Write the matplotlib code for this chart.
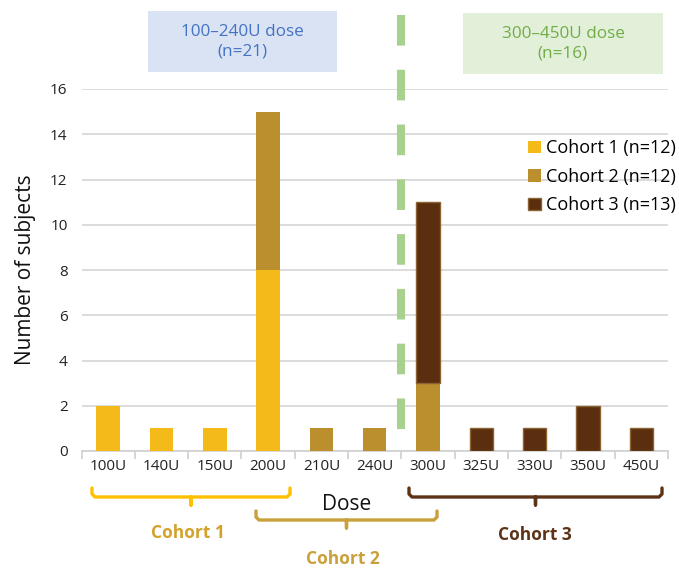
import numpy as np
import matplotlib
matplotlib.use("Agg")
import matplotlib.pyplot as plt
from matplotlib.lines import Line2D
from matplotlib.patches import Rectangle

plt.rcParams['font.family'] = ['Open Sans', 'DejaVu Sans']

# data
doses = ["100U", "140U", "150U", "200U", "210U", "240U", "300U", "325U", "330U", "350U", "450U"]
cohort1 = [2, 1, 1, 8, 0, 0, 0, 0, 0, 0, 0]
cohort2 = [0, 0, 0, 7, 1, 1, 3, 0, 0, 0, 0]
cohort3 = [0, 0, 0, 0, 0, 0, 8, 1, 1, 2, 1]
labels = ["Cohort 1 (n=12)", "Cohort 2 (n=12)", "Cohort 3 (n=13)"]

c1 = '#F4BA19'
c2 = '#BC8F2E'
c3 = '#5B2E0F'

W, H = 679, 569
fig = plt.figure(figsize=(W / 100, H / 100), dpi=100)
ax = fig.add_axes([81.5 / W, 1 - 451 / H, (668 - 81.5) / W, (451 - 89) / H])

x = np.arange(len(doses))
bw = 0.44
v1 = np.array(cohort1)
v2 = np.array(cohort2)
v3 = np.array(cohort3)
m1, m2, m3 = v1 > 0, v2 > 0, v3 > 0
b1 = ax.bar(x[m1], v1[m1], bw, color=c1, label=labels[0], zorder=3)
b2 = ax.bar(x[m2], v2[m2], bw, bottom=v1[m2], color=c2, label=labels[1], zorder=3)
b3 = ax.bar(x[m3], v3[m3], bw, bottom=(v1 + v2)[m3], color=c3, edgecolor='#8A6432',
            linewidth=1.0, label=labels[2], zorder=3)

ax.set_xlim(-0.5, len(doses) - 0.5)
ax.set_ylim(0, 16)
ax.set_yticks(range(0, 17, 2))
ax.set_xticks(x)
ax.set_xticklabels(doses, fontsize=11, color='#222222')
ax.tick_params(axis='y', length=0, labelsize=11, labelcolor='#222222', pad=10)
ax.tick_params(axis='x', which='major', length=0, pad=6)
ax.set_xticks(np.arange(-0.5, len(doses), 1), minor=True)
ax.tick_params(axis='x', which='minor', length=6, color='#D0D0D0', width=1.2)
ax.grid(axis='y', color='#D9D9D9', linewidth=1.3, zorder=0)
for s in ['top', 'right', 'left']:
    ax.spines[s].set_visible(False)
ax.spines['bottom'].set_color('#D0D0D0')
ax.spines['bottom'].set_linewidth(1.2)
ax.set_ylabel("Number of subjects", fontsize=15, color='#111111', labelpad=10)

# green dashed separator between 240U and 300U, drawn top-down
ax.plot([5.5, 5.5], [19.27, 0.5], color='#A9D18E', linewidth=5.8, linestyle=(0, (3.8, 3.0)),
        clip_on=False, zorder=4, solid_capstyle='butt')

ax.legend(handles=[b1, b2, b3], loc='upper left', bbox_to_anchor=(521 / W, 1 - 132 / H),
          bbox_transform=fig.transFigure, frameon=False, fontsize=13, handlelength=0.7,
          handleheight=0.7, handletextpad=0.3, labelspacing=0.58, borderaxespad=0)


def px(xp, yp):
    return xp / W, 1 - yp / H


# dose range boxes
fig.add_artist(Rectangle(px(148, 72), 189 / W, 61 / H, transform=fig.transFigure,
                         facecolor='#DAE3F3', edgecolor='none'))
fig.text(*px(242.5, 41.5), "100–240U dose\n(n=21)", ha='center', va='center',
         fontsize=12.3, color='#4472C4', linespacing=1.25)
fig.add_artist(Rectangle(px(463, 74), 200 / W, 61 / H, transform=fig.transFigure,
                         facecolor='#E2F0D9', edgecolor='none'))
fig.text(*px(563, 43.5), "300–450U dose\n(n=16)", ha='center', va='center',
         fontsize=12.3, color='#70AD47', linespacing=1.25)


def bracket(x0, x1, ytop, ybot, ytick, color):
    xm = (x0 + x1) / 2
    r = 3
    xs = [x0, x0, x0 + r, xm - r, xm, xm, xm, xm + r, x1 - r, x1, x1]
    ys = [ytop, ybot - r, ybot, ybot, ybot, ytick, ybot, ybot, ybot, ybot - r, ytop]
    fx = [v / W for v in xs]
    fy = [1 - v / H for v in ys]
    fig.add_artist(Line2D(fx, fy, transform=fig.transFigure, color=color, linewidth=2.4,
                          solid_joinstyle='round', solid_capstyle='round'))


bracket(92, 290, 488, 497, 505, '#FFC000')
bracket(256, 437, 511, 520, 528, '#C9A03A')
bracket(409, 662, 488, 497, 505, '#5C3317')

fig.text(*px(347, 505), "Dose", ha='center', va='center', fontsize=15, color='#111111')
fig.text(*px(188, 533), "Cohort 1", ha='center', va='center', fontsize=12.5,
         fontweight='bold', color='#D4A22B')
fig.text(*px(343, 559), "Cohort 2", ha='center', va='center', fontsize=12.5,
         fontweight='bold', color='#C9A03A')
fig.text(*px(535, 535), "Cohort 3", ha='center', va='center', fontsize=12.5,
         fontweight='bold', color='#5C3317')

fig.savefig("out.png", dpi=100)
